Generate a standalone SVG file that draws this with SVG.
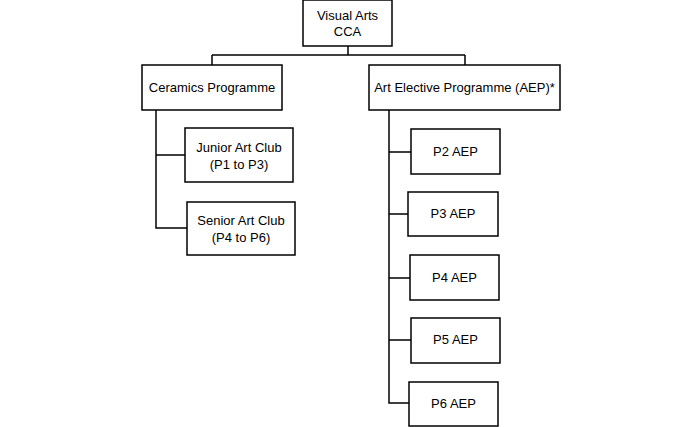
<svg xmlns="http://www.w3.org/2000/svg" width="696" height="427" viewBox="0 0 696 427">
<style>
rect{fill:#fff;stroke:#000;stroke-width:1.5}
text{font-family:"Liberation Sans",Arial,sans-serif;font-size:13px;fill:#000;text-anchor:middle}
#connectors path{fill:none;stroke:#000;stroke-width:1.5}
</style>
<rect x="0" y="0" width="696" height="427" style="stroke:none"/>
<g id="connectors">
<path d="M348 46V55M212 55H465M212 55V65M465 55V65"/>
<path d="M156 110V228H187M156 155H185"/>
<path d="M389 110V403H409M389 152H411M389 214H408M389 278H410M389 340H411"/>
</g>
<g id="visual-arts"><rect x="303" y="0" width="89" height="46"/><text x="347.5" y="20">Visual Arts</text><text x="347.5" y="36">CCA</text></g>
<g id="ceramics"><rect x="142" y="65" width="140" height="45"/><text x="212" y="92">Ceramics Programme</text></g>
<g id="aep"><rect x="369" y="65" width="191" height="45"/><text x="464.5" y="92">Art Elective Programme (AEP)*</text></g>
<g id="junior"><rect x="185" y="128" width="108" height="54"/><text x="239" y="152">Junior Art Club</text><text x="239" y="169">(P1 to P3)</text></g>
<g id="senior"><rect x="187" y="202" width="108" height="53"/><text x="241" y="225">Senior Art Club</text><text x="241" y="242">(P4 to P6)</text></g>
<g id="p2"><rect x="411" y="129" width="89" height="45"/><text x="455.5" y="156">P2 AEP</text></g>
<g id="p3"><rect x="408" y="192" width="90" height="44"/><text x="453" y="218">P3 AEP</text></g>
<g id="p4"><rect x="410" y="255" width="89" height="45"/><text x="454.5" y="282">P4 AEP</text></g>
<g id="p5"><rect x="411" y="318" width="89" height="45"/><text x="455.5" y="344">P5 AEP</text></g>
<g id="p6"><rect x="409" y="382" width="89" height="44"/><text x="453.5" y="408">P6 AEP</text></g>
</svg>
